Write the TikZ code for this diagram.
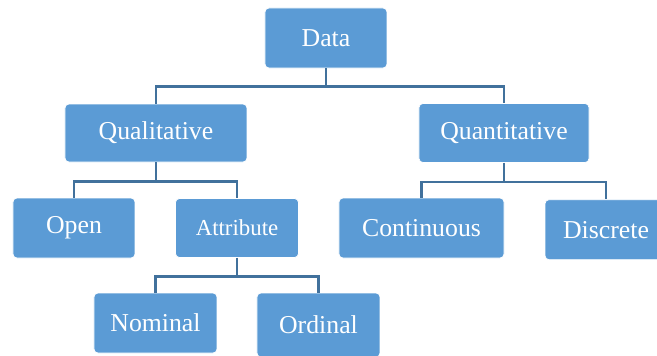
\documentclass[tikz,border=0pt]{standalone}
\usepackage{fontspec}
\setmainfont{Liberation Serif}
\usetikzlibrary{positioning}
\definecolor{boxblue}{HTML}{5B9BD5}
\definecolor{lineblue}{HTML}{41719C}
\begin{document}
\begin{tikzpicture}[
        node distance=2.85cm,
        every node/.style={draw=white, line width=0.6pt, fill=boxblue, text=white, rounded corners=0.12cm, align=center, minimum width=3.66cm, minimum height=1.8cm, font=\fontsize{22}{26}\selectfont},
        link/.style={draw=lineblue, line width=2pt}
    ]
        \useasboundingbox (-9.78,1.14) rectangle (9.93,-9.54);
        \node (data) {Data};
        \node[below of=data, xshift=-5.1cm, minimum width=5.46cm, minimum height=1.74cm] (qual) {Qualitative};
        \node[below of=data, xshift=5.34cm, minimum width=5.1cm, minimum height=1.77cm] (quant) {Quantitative};
        \node[below of=qual, xshift=-2.46cm] (open) {Open};
        \node[below of=qual, xshift=2.43cm, minimum width=3.69cm, minimum height=1.77cm, font=\fontsize{19.5}{24}\selectfont] (attr) {Attribute};
        \node[below of=quant, xshift=-2.475cm, minimum width=4.95cm] (cont) {Continuous};
        \node[below of=quant, xshift=3.06cm, yshift=-0.05cm] (disc) {Discrete};
        \node[below of=attr, xshift=-2.445cm, minimum width=3.69cm] (nom) {Nominal};
        \node[below of=attr, xshift=2.445cm, yshift=-0.06cm, minimum width=3.69cm, minimum height=1.92cm] (ord) {Ordinal};

        \draw[link] (data.south) -- ++(0,-0.54) -| (qual.north);
        \draw[link] (data.south) -- ++(0,-0.54) -| (quant.north);
        \draw[link] (qual.south) -- ++(0,-0.57) -| (open.north);
        \draw[link] (qual.south) -- ++(0,-0.57) -| (attr.north);
        \draw[link] (quant.south) -- ++(0,-0.57) -| (cont.north);
        \draw[link] (quant.south) -- ++(0,-0.57) -| (disc.north);
        \draw[link] (attr.south) -- ++(0,-0.56) -| (nom.north);
        \draw[link] (attr.south) -- ++(0,-0.56) -| (ord.north);
    \end{tikzpicture}
\end{document}
